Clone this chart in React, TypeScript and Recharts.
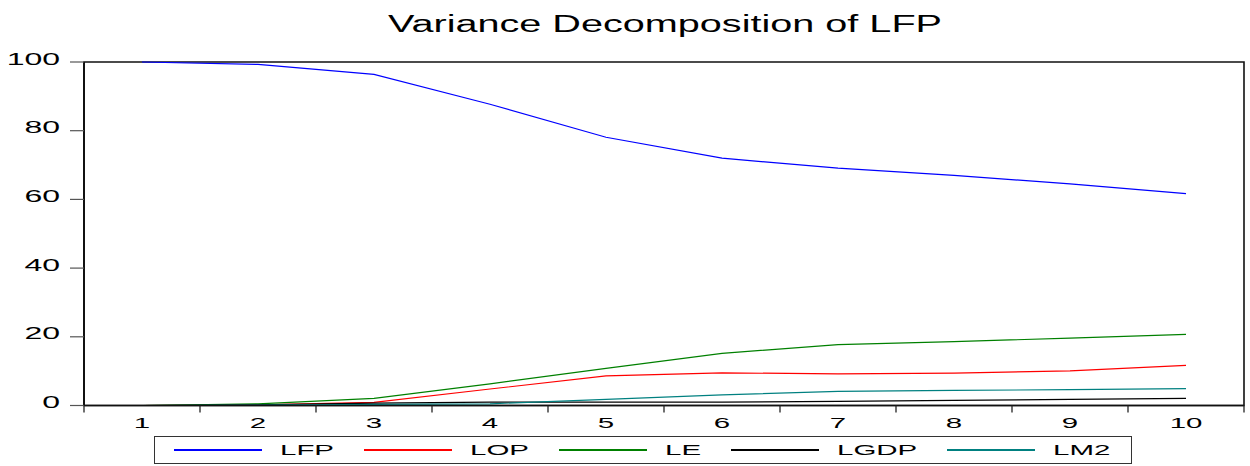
import React from 'react';
import { LineChart, Line, XAxis, YAxis, Legend, ReferenceArea } from 'recharts';

const periods = [1, 2, 3, 4, 5, 6, 7, 8, 9, 10];
const lfp = [100, 99.3, 96.4, 87.7, 78.1, 72.0, 69.1, 67.0, 64.5, 61.7];
const lop = [0, 0.2, 0.9, 4.8, 8.6, 9.5, 9.2, 9.4, 10.1, 11.7];
const le = [0, 0.5, 2.1, 6.3, 10.8, 15.2, 17.7, 18.6, 19.6, 20.7];
const lgdp = [0, 0.2, 0.7, 1.0, 1.0, 1.0, 1.2, 1.5, 1.8, 2.1];
const lm2 = [0, 0.1, 0.3, 0.5, 1.8, 3.1, 4.1, 4.4, 4.6, 4.9];
const yTicks = [0, 20, 40, 60, 80, 100];

const series = [
  { key: 'LFP', values: lfp, color: '#0000ff' },
  { key: 'LOP', values: lop, color: '#ff0000' },
  { key: 'LE', values: le, color: '#008000' },
  { key: 'LGDP', values: lgdp, color: '#000000' },
  { key: 'LM2', values: lm2, color: '#008080' },
];

const data = periods.map((p, i) => {
  const row: Record<string, number> = { period: p };
  series.forEach((s) => (row[s.key] = s.values[i]));
  return row;
});

// labels sit on whole periods, tick marks on the half-way boundaries
const xTicks = [periods[0] - 0.5, ...periods.flatMap((p) => [p, p + 0.5])];

const FONT = '"Liberation Sans", Arial, Helvetica, sans-serif';
const STRETCH = 1.9;

function measure(text: string, size: number) {
  const ctx = document.createElement('canvas').getContext('2d');
  if (!ctx) return text.length * size * 0.6;
  ctx.font = `${size}px ${FONT}`;
  return ctx.measureText(text).width;
}

const YTick = ({ x, y, payload }: any) => (
  <g transform={`translate(${x},${y + 2.5})`}>
    <text transform="scale(2,1)" textAnchor="end" fontSize={16} fontFamily={FONT} fill="#000">
      {payload.value}
    </text>
  </g>
);

const XTick = ({ x, y, payload }: any) => {
  if (!Number.isInteger(payload.value)) {
    return <line x1={x} y1={y} x2={x} y2={y + 7} stroke="#222" strokeWidth={1.3} />;
  }
  return (
    <g transform={`translate(${x},${y + 22.5})`}>
      <text transform={`scale(${STRETCH},1)`} textAnchor="middle" fontSize={15.5} fontFamily={FONT} fill="#000">
        {payload.value}
      </text>
    </g>
  );
};

const order = series.map((s) => s.key);

const LegendBox = ({ payload }: any) => {
  const items = [...(payload || [])].sort((a: any, b: any) => order.indexOf(a.value) - order.indexOf(b.value));
  return (
    <div
      style={{
        marginLeft: 154,
        width: 978,
        height: 28,
        boxSizing: 'border-box',
        border: '1px solid #333',
        display: 'flex',
        alignItems: 'center',
        paddingLeft: 19,
        fontFamily: FONT,
        fontSize: 15.5,
        color: '#000',
      }}
    >
      {items.map((item: any) => (
        <div key={item.value} style={{ display: 'flex', alignItems: 'center', marginRight: 30 }}>
          <div style={{ width: 88, height: 1.2, background: item.color, marginRight: 18 }} />
          <span style={{ display: 'inline-block', width: measure(item.value, 15.5) * STRETCH, lineHeight: '18px' }}>
            <span style={{ display: 'inline-block', transform: `scaleX(${STRETCH})`, transformOrigin: 'left center' }}>
              {item.value}
            </span>
          </span>
        </div>
      ))}
    </div>
  );
};

export default function App() {
  return (
    <div style={{ position: 'absolute', left: 0, top: 0, width: 1250, height: 466, background: '#fff' }}>
      <svg width={1250} height={50} style={{ position: 'absolute', left: 0, top: 0 }}>
        <text x={388} y={32} fontSize={23.5} fontFamily={FONT} fill="#000" textLength={554} lengthAdjust="spacingAndGlyphs">
          Variance Decomposition of LFP
        </text>
      </svg>
      <LineChart width={1250} height={466} data={data} margin={{ top: 62, right: 6, bottom: 2, left: 0 }}>
        <XAxis
          dataKey="period"
          type="number"
          domain={[0.5, 10.5]}
          ticks={xTicks}
          interval={0}
          tick={<XTick />}
          tickLine={false}
          tickSize={0}
          tickMargin={0}
          height={30.5}
          stroke="#111"
          strokeWidth={1.5}
        />
        <YAxis
          domain={[0, 100]}
          ticks={yTicks}
          tick={<YTick />}
          tickSize={14}
          tickMargin={10}
          tickLine={{ stroke: '#555', strokeWidth: 1.2 }}
          width={84}
          stroke="#111"
          strokeWidth={2}
        />
        <ReferenceArea x1={0.5} x2={10.5} y1={0} y2={100} fill="none" stroke="#111" strokeWidth={1.6} />
        {series.map((s) => (
          <Line
            key={s.key}
            type="linear"
            dataKey={s.key}
            stroke={s.color}
            strokeWidth={1.2}
            dot={false}
            isAnimationActive={false}
          />
        ))}
        <Legend verticalAlign="bottom" content={<LegendBox />} wrapperStyle={{ left: 0, width: 1250 }} />
      </LineChart>
    </div>
  );
}
